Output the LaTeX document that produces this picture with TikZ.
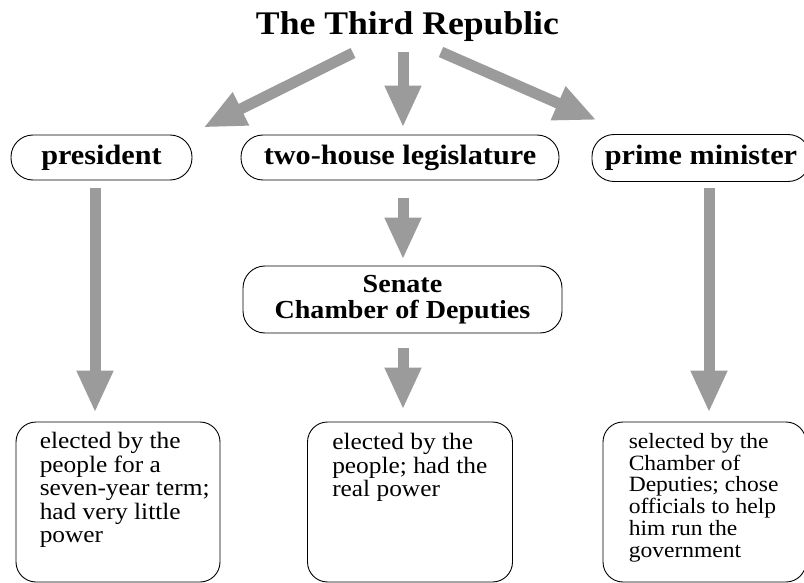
\documentclass[tikz,border=0pt]{standalone}
\usepackage{fontspec}
\setmainfont{Liberation Serif}[FakeStretch=1.08]
\usetikzlibrary{arrows.meta,calc}
\definecolor{arrgray}{RGB}{155,155,155}
\tikzset{
  bigarrow/.style={draw=arrgray, line width=11pt, -{Triangle[width=34pt,length=42pt]}},
  pill/.style={draw=black, line width=0.9pt, rounded corners=22pt, inner sep=0pt, align=center},
  infobox/.style={draw=black, line width=0.9pt, rounded corners=20pt, inner sep=0pt},
  infotext/.style={inner sep=0pt, anchor=base west},
}
\newcommand{\bodyfont}{\fontsize{23.5}{23.5}\selectfont}
\begin{document}
\begin{tikzpicture}[x=1pt,y=-1pt]
\useasboundingbox (0,0) rectangle (804,583);
\clip (0,0) rectangle (804,583);
% title
\node[inner sep=0pt, anchor=base, font=\fontsize{33}{33}\selectfont\bfseries] (title) at (407.5,35) {The Third Republic};
% top boxes
\node[pill, minimum width=181pt, minimum height=45pt, font=\fontsize{28}{28}\selectfont\bfseries] (pres) at (101.5,157.5) {president};
\node[pill, minimum width=318pt, minimum height=45pt, font=\fontsize{28}{28}\selectfont\bfseries] (legis) at (400,157.5) {two-house legislature};
\node[pill, minimum width=218pt, minimum height=47pt, font=\fontsize{28}{28}\selectfont\bfseries] (pm) at (701,158) {prime minister};
% senate
\node[pill, minimum width=319pt, minimum height=67pt, font=\fontsize{26}{26}\selectfont\bfseries] (senate) at (402.5,299.5) {Senate\\Chamber of Deputies};
% bottom boxes
\node[infobox, minimum width=204pt, minimum height=160pt] (bl) at (118,502) {};
\node[infobox, minimum width=205pt, minimum height=160pt] (bm) at (410,502) {};
\node[infobox, minimum width=203pt, minimum height=160pt] (br) at (704.5,502) {};
\node[infotext] (blt) at ($(bl.north west)+(24,27)$) {\parbox[t]{200pt}{\bodyfont\raggedright elected by the\\people for a\\seven-year term;\\had very little\\power}};
\node[infotext] (bmt) at ($(bm.north west)+(25,28)$) {\parbox[t]{200pt}{\bodyfont\raggedright elected by the\\people; had the\\real power}};
\node[infotext] (brt) at ($(br.north west)+(26,27)$) {\parbox[t]{200pt}{\fontsize{21.8}{21.7}\selectfont\raggedright selected by the\\Chamber of\\Deputies; chose\\officials to help\\him run the\\government}};
% arrows
\draw[bigarrow] ($(title.base)+(-54.5,18)$) -- ($(pres.north east)+(11,-7)$);
\draw[bigarrow] ($(title.base)+(-4.5,17)$) -- ($(legis.north)+(3,-7)$);
\draw[bigarrow] ($(title.base)+(33.5,17)$) -- ($(pm.north west)+(5,-14)$);
\draw[bigarrow] ($(pres.south)+(-6.5,8)$) -- ($(bl.north)+(-23,-9)$);
\draw[bigarrow] ($(legis.south)+(3,18)$) -- ($(senate.north)+(0.5,-6)$);
\draw[bigarrow] ($(senate.south)+(0.5,15)$) -- ($(bm.north)+(-7,-12)$);
\draw[bigarrow] ($(pm.south)+(8,6)$) -- ($(br.north)+(4.5,-9)$);
\end{tikzpicture}
\end{document}
